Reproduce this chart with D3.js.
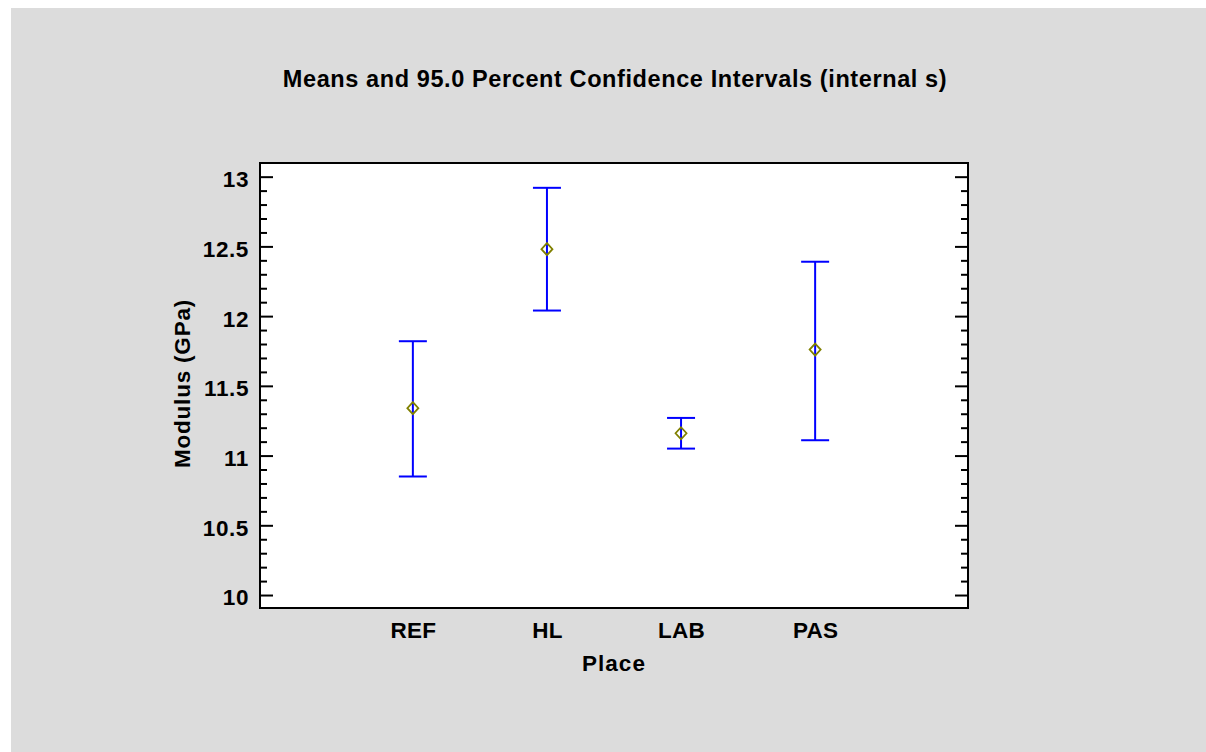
<!DOCTYPE html>
<html>
<head>
<meta charset="utf-8">
<script src="https://cdn.jsdelivr.net/npm/d3@7"></script>
<style>
  body { margin: 0; background: #ffffff; }
  text { font-family: "Liberation Sans", Arial, sans-serif; font-weight: bold; fill: #000; }
</style>
</head>
<body>
<div id="chart"></div>
<script>
// data
var places = ["REF", "HL", "LAB", "PAS"];
var means = [11.34, 12.48, 11.16, 11.76];
var lowers = [10.85, 12.04, 11.05, 11.11];
var uppers = [11.82, 12.92, 11.27, 12.39];
var yTicks = [10, 10.5, 11, 11.5, 12, 12.5, 13];

var W = 1206, H = 752;
const margin = {top: 163, right: 238, bottom: 144, left: 260};
const plotW = W - margin.left - margin.right;
const plotH = H - margin.top - margin.bottom;

var svg = d3.select("#chart").append("svg")
    .attr("width", W)
    .attr("height", H);

// gray panel
svg.append("rect")
    .attr("x", 11).attr("y", 8)
    .attr("width", W - 11).attr("height", H - 8)
    .attr("fill", "#dcdcdc");

svg.append("text")
    .attr("x", 615)
    .attr("y", 87)
    .attr("text-anchor", "middle")
    .style("font-size", "23.5px")
    .style("letter-spacing", "0.6px")
    .text("Means and 95.0 Percent Confidence Intervals (internal s)");

var g = svg.append("g")
    .attr("transform", `translate(${margin.left}, ${margin.top})`);

g.append("rect")
    .attr("width", plotW).attr("height", plotH)
    .attr("fill", "#fff");

var xScale = d3.scaleLinear()
    .domain([-0.14, 5.14])
    .range([0, plotW]);

var yScale = d3.scaleLinear()
    .domain([9.907, 13.098])
    .range([plotH, 0]);

// minor ticks every 0.1, both sides
var minor = d3.range(100, 131).map(d => d / 10).filter(d => yTicks.indexOf(d) < 0);

g.append("g")
    .call(d3.axisLeft(yScale).tickValues(minor).tickSize(-7).tickFormat(""))
    .call(a => a.select(".domain").remove());
g.append("g")
    .call(d3.axisLeft(yScale).tickValues(yTicks).tickSize(-13).tickPadding(11).tickFormat(d3.format("")))
    .call(a => a.select(".domain").remove())
    .selectAll("text")
        .attr("dy", "0.44em")
        .style("font-size", "22.5px")
        .style("letter-spacing", "0.6px");
g.append("g")
    .attr("transform", `translate(${plotW},0)`)
    .call(d3.axisRight(yScale).tickValues(minor).tickSize(-7).tickFormat(""))
    .call(a => a.select(".domain").remove());
g.append("g")
    .attr("transform", `translate(${plotW},0)`)
    .call(d3.axisRight(yScale).tickValues(yTicks).tickSize(-13).tickFormat(""))
    .call(a => a.select(".domain").remove());
g.selectAll(".tick line").attr("stroke", "#000").attr("stroke-width", 2);

// category labels
g.append("g")
    .attr("transform", `translate(0,${plotH})`)
    .call(d3.axisBottom(xScale).tickValues([1, 2, 3, 4]).tickSize(0).tickPadding(14)
        .tickFormat(d => places[d - 1]))
    .call(a => a.select(".domain").remove())
    .selectAll("text")
        .attr("dy", "0.71em")
        .attr("y", 14)
        .style("font-size", "22.5px")
        .style("letter-spacing", "0.3px");

// frame
g.append("rect")
    .attr("width", plotW).attr("height", plotH)
    .attr("fill", "none")
    .attr("stroke", "#000")
    .attr("stroke-width", 2);

// error bars
var rows = places.map((p, i) => ({i: i + 1, mean: means[i], lo: lowers[i], hi: uppers[i]}));

g.selectAll(".stem").data(rows).join("line")
    .attr("x1", d => xScale(d.i)).attr("x2", d => xScale(d.i))
    .attr("y1", d => yScale(d.lo)).attr("y2", d => yScale(d.hi))
    .attr("stroke", "#0000ff").attr("stroke-width", 2);
g.selectAll(".capHi").data(rows).join("line")
    .attr("x1", d => xScale(d.i) - 14).attr("x2", d => xScale(d.i) + 14)
    .attr("y1", d => yScale(d.hi)).attr("y2", d => yScale(d.hi))
    .attr("stroke", "#0000ff").attr("stroke-width", 2);
g.selectAll(".capLo").data(rows).join("line")
    .attr("x1", d => xScale(d.i) - 14).attr("x2", d => xScale(d.i) + 14)
    .attr("y1", d => yScale(d.lo)).attr("y2", d => yScale(d.lo))
    .attr("stroke", "#0000ff").attr("stroke-width", 2);

// mean diamonds
g.selectAll(".dot").data(rows).join("path")
    .attr("transform", d => `translate(${xScale(d.i)},${yScale(d.mean)})`)
    .attr("d", "M0,-6L5.5,0L0,6L-5.5,0Z")
    .attr("fill", "none")
    .attr("stroke", "#808000")
    .attr("stroke-width", 1.8);

// axis titles
svg.append("text")
    .attr("x", 614)
    .attr("y", 671)
    .attr("text-anchor", "middle")
    .style("font-size", "22.5px")
    .style("letter-spacing", "1px")
    .text("Place");

svg.append("text")
    .attr("transform", `translate(190, ${margin.top + plotH / 2 - 2}) rotate(-90)`)
    .attr("text-anchor", "middle")
    .style("font-size", "22.5px")
    .style("letter-spacing", "0.8px")
    .text("Modulus (GPa)");
</script>
</body>
</html>
